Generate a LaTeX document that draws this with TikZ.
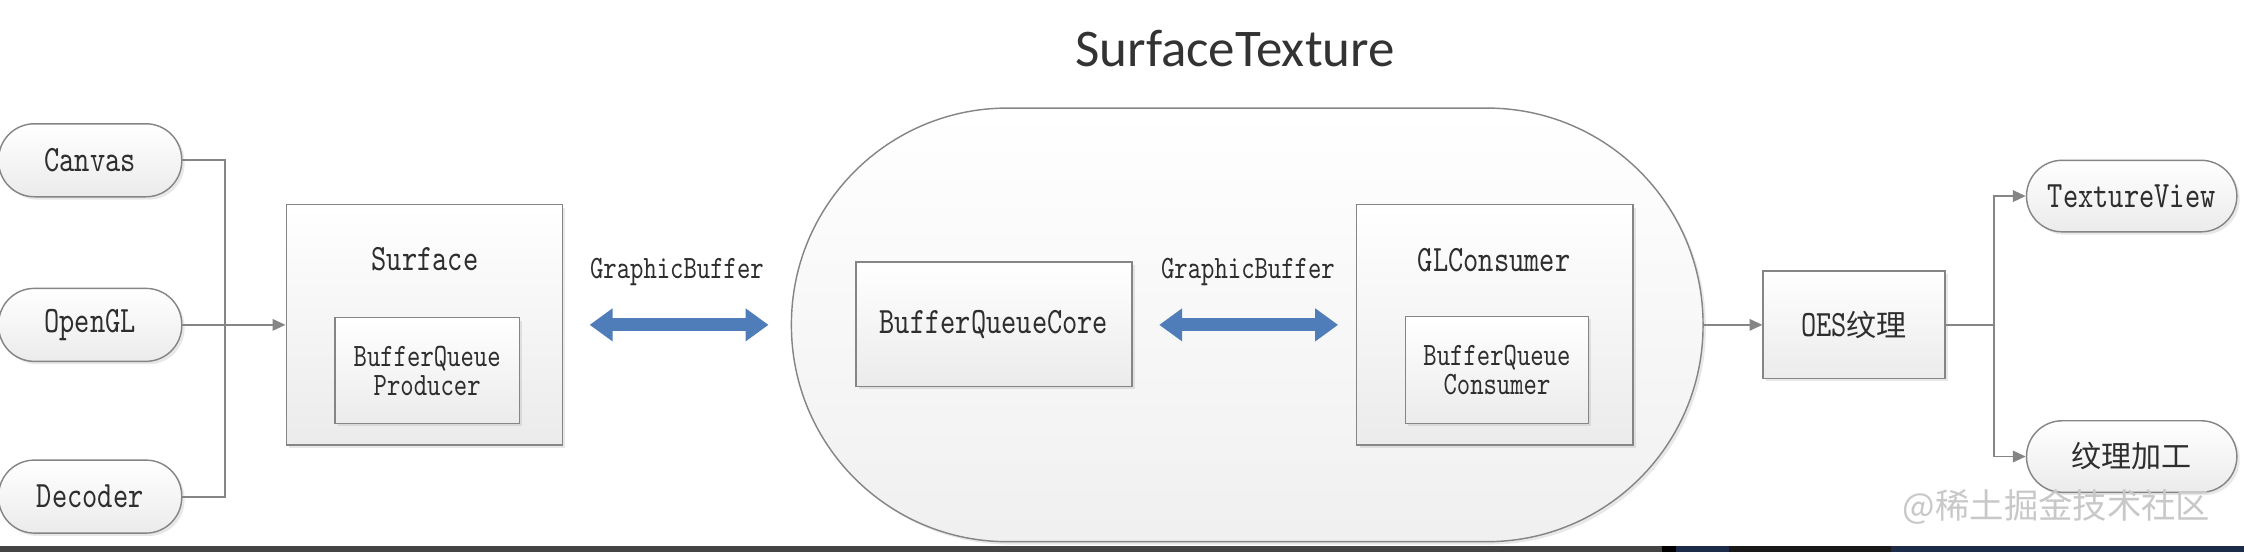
\documentclass[tikz,border=0pt]{standalone}
\usepackage{fontspec}
\usetikzlibrary{arrows.meta,shadows}
\newfontfamily\labfont{lmmono10-regular}[Extension=.otf, FakeStretch=0.78]
\newfontfamily\cjkfont{Noto Sans CJK SC}
\newfontfamily\titlefont{Carlito}
\newcommand\biglab{\labfont\fontsize{26}{28}\selectfont}
\newcommand\smlab{\labfont\fontsize{22.8}{20.5}\selectfont}
\definecolor{linegray}{HTML}{858585}
\definecolor{boxbot}{HTML}{EBEBEB}
\definecolor{arrowblue}{HTML}{4F7DBA}
\definecolor{textgray}{HTML}{2E2E2E}
\definecolor{wmgray}{HTML}{C8C8C8}
\definecolor{stripgray}{HTML}{444444}
\definecolor{stripnavy}{HTML}{1C2B48}
\tikzset{
  boxst/.style={draw=linegray, line width=1pt, top color=white, bottom color=boxbot,
    drop shadow={shadow xshift=2pt, shadow yshift=-2pt, opacity=0.18},
    inner sep=0pt, text=textgray, align=center},
  pillst/.style={boxst, rounded corners=25pt},
  plain/.style={inner sep=0pt, text=textgray, align=center},
  conn/.style={draw=linegray, line width=1.3pt},
  arr/.style={conn, -{Triangle[length=9pt,width=8pt]}},
  dblarr/.style={draw=arrowblue, line width=9pt,
    {Triangle[length=16pt,width=22pt]}-{Triangle[length=16pt,width=22pt]}},
}
\begin{document}
\begin{tikzpicture}[x=1pt,y=-1pt]
\useasboundingbox (0,0) rectangle (1568,386);
\fill[white] (0,0) rectangle (1568,386);

% title
\node[plain, font=\titlefont\fontsize{37}{40}\selectfont, text=black!80] (title) at (863,34) {SurfaceTexture};

% stadium
\node[boxst, rounded corners=151pt, minimum width=637pt, minimum height=303pt,
      top color=white, bottom color=black!6] (st) at (871.5,227) {};

% left sources
\node[pillst, minimum width=128pt, minimum height=51pt, font=\biglab] (canvas) at (63,112) {Canvas};
\node[pillst, minimum width=128pt, minimum height=51pt, font=\biglab] (opengl) at (63,227) {OpenGL};
\node[pillst, minimum width=128pt, minimum height=51pt, font=\biglab] (decoder) at (63,347) {Decoder};

% surface
\node[boxst, minimum width=193pt, minimum height=168pt] (surface) at (296.5,227) {};
\node[plain, font=\biglab] (surftxt) at (297,181) {Surface};
\node[boxst, minimum width=129pt, minimum height=74pt, font=\smlab] (prod) at (298.5,259) {BufferQueue\\Producer};

% graphic buffer 1
\node[plain, font=\smlab] (gb1) at (473,190) {GraphicBuffer};
\coordinate (g1a) at (412,227);
\coordinate (g1b) at (537,227);
\draw[dblarr] (g1a) -- (g1b);

% core
\node[boxst, minimum width=193pt, minimum height=87pt, font=\biglab] (core) at (694.5,226.5) {BufferQueueCore};

% graphic buffer 2
\node[plain, font=\smlab] (gb2) at (872,190) {GraphicBuffer};
\coordinate (g2a) at (810,227);
\coordinate (g2b) at (935,227);
\draw[dblarr] (g2a) -- (g2b);

% GLConsumer
\node[boxst, minimum width=193pt, minimum height=168pt] (glc) at (1044.5,227) {};
\node[plain, font=\biglab] (glctxt) at (1044,182) {GLConsumer};
\node[boxst, minimum width=128pt, minimum height=75pt, font=\smlab] (cons) at (1046,258.5) {BufferQueue\\Consumer};

% OES
\node[boxst, minimum width=127pt, minimum height=75pt, font=\biglab] (oes) at (1295.5,227) {OES{\cjkfont\fontsize{21}{24}\selectfont 纹理}};

% right targets
\node[pillst, minimum width=147pt, minimum height=50pt, font=\biglab] (tv) at (1489.5,137) {TextureView};
\node[pillst, minimum width=147pt, minimum height=50pt, font=\cjkfont\fontsize{21}{24}\selectfont] (proc) at (1489.5,319) {纹理加工};

% connectors
\coordinate (jl) at (157,227);
\coordinate (jr) at (1393,227);
\draw[conn] (canvas.east) -| (jl);
\draw[conn] (decoder.east) -| (jl);
\draw[arr] (opengl.east) -- (surface.west);
\draw[arr] (st.east) -- (oes.west);
\draw[conn] (oes.east) -- (jr);
\draw[arr] (jr) |- (tv.west);
\draw[arr] (jr) |- (proc.west);

% watermark
\node[plain, text=wmgray, font=\cjkfont\fontsize{24}{26}\selectfont] (wm) at (1437,354) {@稀土掘金技术社区};

% bottom strip
\fill[stripgray] (0,381.5) rectangle (1161,386);
\fill[black] (1161,381.5) rectangle (1171,386);
\fill[stripnavy] (1171,381.5) rectangle (1208,386);
\fill[black!90] (1208,381.5) rectangle (1321,386);
\fill[stripnavy] (1321,381.5) rectangle (1568,386);
\end{tikzpicture}
\end{document}
